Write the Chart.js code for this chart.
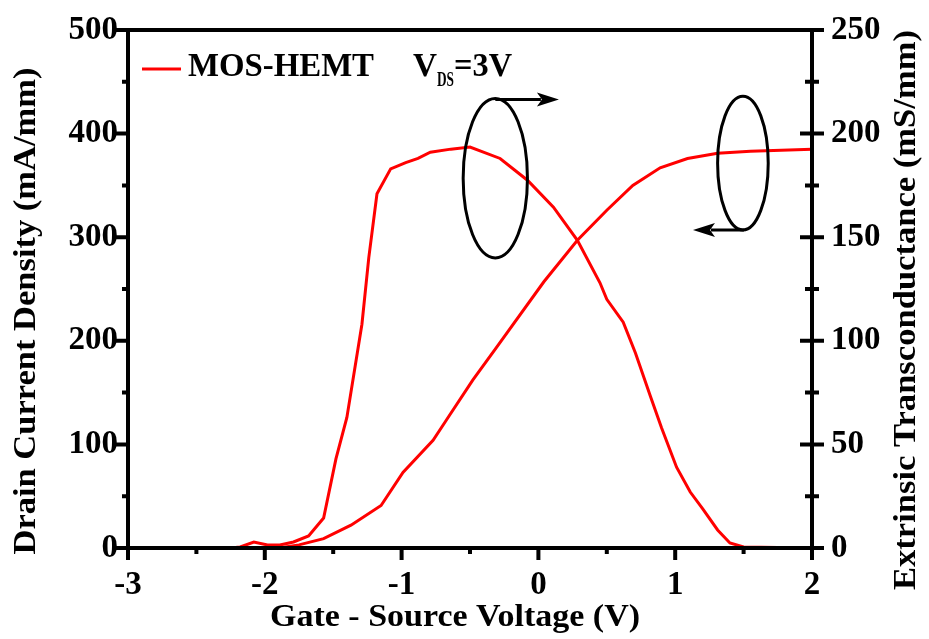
<!DOCTYPE html>
<html>
<head>
<meta charset="utf-8">
<script src="https://cdn.jsdelivr.net/npm/chart.js@4.4.1/dist/chart.umd.min.js"></script>
<style>
  html, body { margin: 0; padding: 0; background: #fff; }
  canvas { display: block; }
</style>
</head>
<body>
<canvas id="chart" width="929" height="639"></canvas>
<script>
// transconductance (right axis)
const gmVolts = [-3, -2.25, -2.18, -2.08, -1.98, -1.89, -1.79, -1.68, -1.57, -1.48,
  -1.40, -1.29, -1.24, -1.18, -1.08, -0.97, -0.88, -0.79, -0.64, -0.50,
  -0.28, -0.08, 0.11, 0.285, 0.45, 0.50, 0.62, 0.71, 0.82, 0.90,
  1.01, 1.11, 1.20, 1.31, 1.40, 1.50, 2.0];
const gmValues = [0, 0, 0.5, 2.9, 1.5, 1.5, 2.9, 5.8, 14.5, 43,
  63, 108, 140, 171, 183, 186, 188, 191, 192.5, 193.5,
  188, 177.5, 164.5, 148.5, 128, 120, 109, 94, 73, 58,
  39, 27, 19, 8.7, 2.4, 0.5, 0];

// drain current density (left axis)
const idVolts = [-3, -1.9, -1.75, -1.57, -1.37, -1.15, -0.99, -0.77, -0.67, -0.48,
  -0.31, 0.04, 0.285, 0.50, 0.69, 0.89, 1.09, 1.31, 1.55, 2.0];
const idValues = [0, 0, 3, 9, 22, 41, 73, 104, 124, 162,
  193, 257, 297, 326, 350, 367, 376, 381, 383, 385];

const xTicks = [-3, -2, -1, 0, 1, 2];
const leftTicks = [0, 100, 200, 300, 400, 500];
const rightTicks = [0, 50, 100, 150, 200, 250];

const FONT = "'Liberation Serif', 'Times New Roman', serif";
Chart.defaults.font.family = FONT;
Chart.defaults.font.weight = 'bold';
Chart.defaults.color = '#000';

function toPoints(xs, ys) {
  return xs.map((v, i) => ({ x: v, y: ys[i] }));
}

// draw text squeezed/stretched to a given width
function fitText(ctx, text, x, y, size, width, rot, align) {
  ctx.save();
  ctx.font = 'bold ' + size + 'px ' + FONT;
  const w = ctx.measureText(text).width;
  ctx.translate(x, y);
  ctx.rotate(rot || 0);
  ctx.scale(width / w, 1);
  ctx.textAlign = align || 'center';
  ctx.textBaseline = align ? 'alphabetic' : 'middle';
  ctx.fillText(text, 0, 0);
  ctx.restore();
}

function arrow(ctx, x1, y, x2) {
  const dir = Math.sign(x2 - x1);
  ctx.beginPath();
  ctx.moveTo(x1, y);
  ctx.lineTo(x2 - dir * 18, y);
  ctx.stroke();
  ctx.beginPath();
  ctx.moveTo(x2, y);
  ctx.lineTo(x2 - dir * 22, y - 7);
  ctx.lineTo(x2 - dir * 17, y);
  ctx.lineTo(x2 - dir * 22, y + 7);
  ctx.closePath();
  ctx.fill();
}

// fixed axis boxes so the plot area lands where the reference has it
function fixBox(size) {
  return s => {
    if (s.isHorizontal()) s.height = size; else s.width = size;
    s.paddingTop = 0; s.paddingBottom = 0;
    s.paddingLeft = 0; s.paddingRight = 0;
  };
}

const decor = {
  id: 'decor',
  afterDraw(chart) {
    const ctx = chart.ctx;
    const ca = chart.chartArea;
    const x = chart.scales.x, y = chart.scales.y, y2 = chart.scales.y2;
    ctx.save();
    ctx.strokeStyle = '#000';
    ctx.fillStyle = '#000';
    ctx.lineCap = 'butt';

    // frame
    ctx.lineWidth = 4;
    ctx.strokeRect(ca.left, ca.top, ca.right - ca.left, ca.bottom - ca.top);

    // ticks
    ctx.beginPath();
    for (let v = -3; v <= 2.001; v += 0.5) {
      const px = x.getPixelForValue(v);
      const len = Math.abs(v - Math.round(v)) < 0.01 ? 12 : 6;
      ctx.moveTo(px, ca.bottom); ctx.lineTo(px, ca.bottom + len);
    }
    for (let v = 0; v <= 500; v += 50) {
      const py = y.getPixelForValue(v);
      const len = v % 100 === 0 ? 13 : 6;
      ctx.moveTo(ca.left, py); ctx.lineTo(ca.left - len, py);
    }
    for (let v = 0; v <= 250; v += 25) {
      const py = y2.getPixelForValue(v);
      const len = v % 50 === 0 ? 12 : 7;
      ctx.moveTo(ca.right - len, py); ctx.lineTo(ca.right + len, py);
    }
    ctx.stroke();

    // axis titles
    fitText(ctx, 'Gate - Source Voltage (V)', 455, 618, 32, 370, 0);
    fitText(ctx, 'Drain Current Density (mA/mm)', 27, 311, 32, 487, -Math.PI / 2);
    fitText(ctx, 'Extrinsic Transconductance (mS/mm)', 907, 310, 32, 560, -Math.PI / 2);

    // legend
    ctx.strokeStyle = '#ff0000';
    ctx.lineWidth = 3;
    ctx.beginPath();
    ctx.moveTo(142, 69); ctx.lineTo(181, 69);
    ctx.stroke();
    ctx.fillStyle = '#000';
    fitText(ctx, 'MOS-HEMT', 188, 76, 34, 186, 0, 'left');
    fitText(ctx, 'V', 413, 76, 34, 24, 0, 'left');
    fitText(ctx, 'DS', 437, 86, 20, 17, 0, 'left');
    fitText(ctx, '=3V', 454, 76, 34, 58, 0, 'left');

    // ellipses and arrows marking which curve goes with which axis
    ctx.strokeStyle = '#000';
    ctx.lineWidth = 3;
    const e1x1 = x.getPixelForValue(-0.55), e1x2 = x.getPixelForValue(-0.08);
    const e1y1 = y.getPixelForValue(434), e1y2 = y.getPixelForValue(280);
    ctx.beginPath();
    ctx.ellipse((e1x1 + e1x2) / 2, (e1y1 + e1y2) / 2, (e1x2 - e1x1) / 2, (e1y2 - e1y1) / 2, 0, 0, Math.PI * 2);
    ctx.stroke();
    arrow(ctx, (e1x1 + e1x2) / 2, e1y1 + 1, x.getPixelForValue(0.15));

    const e2x1 = x.getPixelForValue(1.31), e2x2 = x.getPixelForValue(1.68);
    const e2y1 = y.getPixelForValue(436), e2y2 = y.getPixelForValue(307);
    ctx.beginPath();
    ctx.ellipse((e2x1 + e2x2) / 2, (e2y1 + e2y2) / 2, (e2x2 - e2x1) / 2, (e2y2 - e2y1) / 2, 0, 0, Math.PI * 2);
    ctx.stroke();
    arrow(ctx, (e2x1 + e2x2) / 2 + 1, e2y2, x.getPixelForValue(1.13));

    ctx.restore();
  }
};

new Chart(document.getElementById('chart'), {
  type: 'line',
  data: {
    datasets: [
      {
        label: 'Drain Current Density',
        data: toPoints(idVolts, idValues),
        yAxisID: 'y',
        borderColor: '#ff0000',
        borderWidth: 3,
        pointRadius: 0,
        tension: 0,
        fill: false
      },
      {
        label: 'Extrinsic Transconductance',
        data: toPoints(gmVolts, gmValues),
        yAxisID: 'y2',
        borderColor: '#ff0000',
        borderWidth: 3,
        pointRadius: 0,
        tension: 0,
        fill: false
      }
    ]
  },
  options: {
    responsive: false,
    animation: false,
    events: [],
    layout: { padding: { top: 30, left: 0, right: 0, bottom: 0 } },
    plugins: { legend: { display: false }, tooltip: { enabled: false } },
    scales: {
      x: {
        type: 'linear',
        min: -3, max: 2,
        afterBuildTicks: s => { s.ticks = xTicks.map(v => ({ value: v })); },
        afterFit: fixBox(91),
        grid: { display: false, drawTicks: false },
        border: { display: false },
        ticks: { padding: 18, font: { size: 33 }, callback: v => String(v) }
      },
      y: {
        position: 'left',
        min: 0, max: 500,
        afterBuildTicks: s => { s.ticks = leftTicks.map(v => ({ value: v })); },
        afterFit: fixBox(128),
        grid: { display: false, drawTicks: false },
        border: { display: false },
        ticks: { padding: 10, font: { size: 33 } }
      },
      y2: {
        position: 'right',
        min: 0, max: 250,
        afterBuildTicks: s => { s.ticks = rightTicks.map(v => ({ value: v })); },
        afterFit: fixBox(117),
        grid: { display: false, drawTicks: false },
        border: { display: false },
        ticks: { padding: 19, font: { size: 33 } }
      }
    }
  },
  plugins: [decor]
});
</script>
</body>
</html>
